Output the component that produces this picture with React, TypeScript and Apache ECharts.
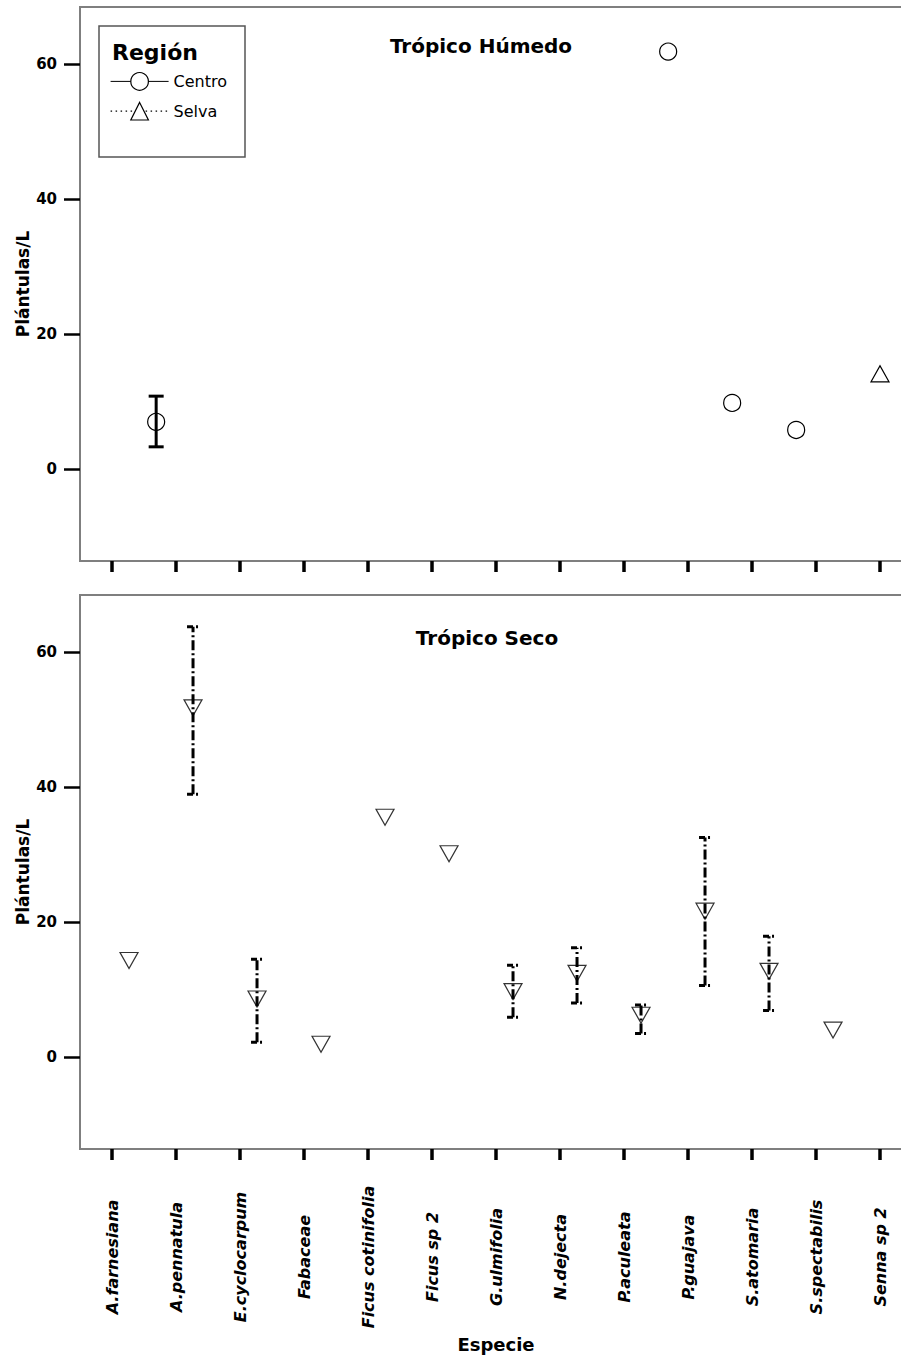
import React, { useEffect, useRef } from 'react';
import * as echarts from 'echarts';

const categories = [
  'A.farnesiana', 'A.pennatula', 'E.cyclocarpum', 'Fabaceae', 'Ficus cotinifolia', 'Ficus sp 2',
  'G.ulmifolia', 'N.dejecta', 'P.aculeata', 'P.guajava', 'S.atomaria', 'S.spectabilis', 'Senna sp 2',
];
const yTicks = [0, 20, 40, 60];

// Trópico Húmedo
const centroIdx = [1, 9, 10, 11];
const centroVal = [7.0, 61.8, 9.8, 5.8];
const centroErrIdx = [1];
const centroErrLo = [3.3];
const centroErrHi = [10.8];
const selvaIdx = [12];
const selvaVal = [14.1];

// Trópico Seco
const secoIdx = [0, 1, 2, 3, 4, 5, 6, 7, 8, 9, 10, 11];
const secoVal = [14.3, 51.7, 8.6, 1.9, 35.5, 30.1, 9.7, 12.4, 6.2, 21.6, 12.7, 4.0];
const secoErrIdx = [1, 2, 6, 7, 8, 9, 10];
const secoErrLo = [38.9, 2.2, 5.9, 8.0, 3.5, 10.6, 6.9];
const secoErrHi = [63.7, 14.5, 13.6, 16.2, 7.7, 32.5, 17.9];

const CENTRO_OFF = -0.31;
const SELVA_OFF = 0;
const SECO_OFF = 0.266;

const FONT = '"DejaVu Sans", "Liberation Sans", sans-serif';

function makeErrRender(lineDash: number[] | null, capDash: number[] | null, capHalf: number) {
  return (params: any, api: any) => {
    const x = api.value(0);
    const lo = api.coord([x, api.value(1)]);
    const hi = api.coord([x, api.value(2)]);
    const base: any = { stroke: '#000', lineWidth: 3, fill: null };
    const ls: any = { ...base };
    if (lineDash) ls.lineDash = lineDash;
    const cs: any = { ...base };
    if (capDash) cs.lineDash = capDash;
    return {
      type: 'group',
      children: [
        { type: 'line', shape: { x1: lo[0], y1: lo[1], x2: hi[0], y2: hi[1] }, style: ls },
        { type: 'line', shape: { x1: hi[0] - capHalf, y1: hi[1], x2: hi[0] + capHalf, y2: hi[1] }, style: cs },
        { type: 'line', shape: { x1: lo[0] - capHalf, y1: lo[1], x2: lo[0] + capHalf, y2: lo[1] }, style: cs },
      ],
    };
  };
}

export default function App() {
  const ref = useRef<HTMLDivElement>(null);
  useEffect(() => {
    if (!ref.current) return;
    const chart = echarts.init(ref.current, undefined, { renderer: 'svg' });
    const tickVals = categories.map((_, i) => i);

    const yAxisBase = (gridIndex: number) => ({
      type: 'value',
      gridIndex,
      min: -13.6,
      max: 68.4,
      axisLine: { show: false, onZero: false },
      splitLine: { show: false },
      axisTick: { show: true, customValues: yTicks, length: 16, lineStyle: { color: '#000', width: 2.5 } },
      axisLabel: {
        customValues: yTicks, margin: 23, color: '#000',
        fontFamily: FONT, fontWeight: 'bold', fontSize: 15,
      },
      name: 'Plántulas/L',
      nameLocation: 'middle',
      nameRotate: 90,
      nameGap: 49,
      nameMoveOverlap: false,
      nameTextStyle: { fontFamily: FONT, fontWeight: 'bold', fontSize: 17, color: '#000' },
    });

    const xAxisBase = (gridIndex: number, showLabels: boolean) => ({
      type: 'value',
      gridIndex,
      min: -0.5,
      max: 12.5,
      axisLine: { show: false, onZero: false },
      splitLine: { show: false },
      axisTick: { show: true, customValues: tickVals, length: 11, lineStyle: { color: '#000', width: 3.5 } },
      axisLabel: showLabels
        ? {
            customValues: tickVals,
            formatter: (v: number) => categories[Math.round(v)] ?? '',
            rotate: 90,
            align: 'center',
            verticalAlign: 'middle',
            margin: 108,
            color: '#000',
            fontFamily: FONT,
            fontWeight: 'bold',
            fontStyle: 'italic',
            fontSize: 16,
          }
        : { show: false },
      ...(showLabels
        ? {
            name: 'Especie',
            nameLocation: 'middle',
            nameGap: 186,
            nameMoveOverlap: false,
            nameTextStyle: { fontFamily: FONT, fontWeight: 'bold', fontSize: 18, color: '#000' },
          }
        : {}),
    });

    const hollow = { color: 'rgba(0,0,0,0)', borderColor: '#000', borderWidth: 1.2 };

    chart.setOption({
      animation: false,
      backgroundColor: '#fff',
      grid: [
        { left: 80, top: 7, width: 832, height: 554, show: true, borderColor: '#7f7f7f', borderWidth: 2, backgroundColor: 'transparent' },
        { left: 80, top: 595, width: 832, height: 554, show: true, borderColor: '#7f7f7f', borderWidth: 2, backgroundColor: 'transparent' },
      ],
      xAxis: [xAxisBase(0, false), xAxisBase(1, true)],
      yAxis: [yAxisBase(0), yAxisBase(1)],
      legend: {
        orient: 'vertical',
        left: 110,
        top: 72,
        itemWidth: 58,
        itemHeight: 22,
        itemGap: 11,
        padding: 0,
        selectedMode: false,
        textStyle: { fontFamily: FONT, fontSize: 16, color: '#000' },
        data: [
          { name: 'Centro', lineStyle: { opacity: 1, width: 1, color: '#000', type: 'solid' }, itemStyle: { color: '#fff', borderColor: '#000', borderWidth: 1.2 } },
          { name: 'Selva', lineStyle: { opacity: 1, width: 1.2, color: '#000', type: [1.5, 3.5] }, itemStyle: { color: '#fff', borderColor: '#000', borderWidth: 1.2 } },
        ],
      },
      graphic: [
        { type: 'rect', z: 1, shape: { x: 99, y: 26, width: 146, height: 131 }, style: { fill: '#fff', stroke: '#555', lineWidth: 1.5 } },
        { type: 'text', z: 5, x: 112, y: 52, style: { text: 'Región', font: `bold 22px ${FONT}`, fill: '#000', align: 'left', verticalAlign: 'middle' } },
        { type: 'text', z: 5, x: 481, y: 46, style: { text: 'Trópico Húmedo', font: `bold 20px ${FONT}`, fill: '#000', align: 'center', verticalAlign: 'middle' } },
        { type: 'text', z: 5, x: 487, y: 638, style: { text: 'Trópico Seco', font: `bold 20px ${FONT}`, fill: '#000', align: 'center', verticalAlign: 'middle' } },
      ],
      series: [
        {
          type: 'custom',
          name: 'Centro IC',
          xAxisIndex: 0, yAxisIndex: 0,
          renderItem: makeErrRender(null, null, 7.5),
          encode: { x: 0, y: [1, 2] },
          clip: false,
          silent: true,
          data: centroErrIdx.map((c, i) => [c + CENTRO_OFF, centroErrLo[i], centroErrHi[i]]),
        },
        {
          type: 'line',
          name: 'Centro',
          xAxisIndex: 0, yAxisIndex: 0,
          symbol: 'circle',
          symbolSize: 17,
          showSymbol: true,
          showAllSymbol: true,
          lineStyle: { opacity: 0, width: 1, type: 'solid', color: '#000' },
          itemStyle: hollow,
          emphasis: { disabled: true },
          silent: true,
          data: centroIdx.map((c, i) => [c + CENTRO_OFF, centroVal[i]]),
        },
        {
          type: 'line',
          name: 'Selva',
          xAxisIndex: 0, yAxisIndex: 0,
          symbol: 'triangle',
          symbolSize: [18, 16],
          showSymbol: true,
          showAllSymbol: true,
          lineStyle: { opacity: 0, width: 1, type: 'dotted', color: '#000' },
          itemStyle: hollow,
          emphasis: { disabled: true },
          silent: true,
          data: selvaIdx.map((c, i) => [c + SELVA_OFF, selvaVal[i]]),
        },
        {
          type: 'custom',
          name: 'Seco IC',
          xAxisIndex: 1, yAxisIndex: 1,
          renderItem: makeErrRender([10, 3, 2, 3], [6, 3, 2, 9], 6),
          encode: { x: 0, y: [1, 2] },
          clip: false,
          silent: true,
          data: secoErrIdx.map((c, i) => [c + SECO_OFF, secoErrLo[i], secoErrHi[i]]),
        },
        {
          type: 'scatter',
          name: 'Seco',
          xAxisIndex: 1, yAxisIndex: 1,
          symbol: 'triangle',
          symbolRotate: 180,
          symbolSize: [18, 16],
          itemStyle: hollow,
          emphasis: { disabled: true },
          silent: true,
          data: secoIdx.map((c, i) => [c + SECO_OFF, secoVal[i]]),
        },
      ],
    });
    return () => chart.dispose();
  }, []);
  return (
    <div style={{ position: 'absolute', left: 0, top: 0, width: 901, height: 1361, overflow: 'hidden', background: '#fff' }}>
      <div ref={ref} style={{ width: 913, height: 1361 }} />
    </div>
  );
}
